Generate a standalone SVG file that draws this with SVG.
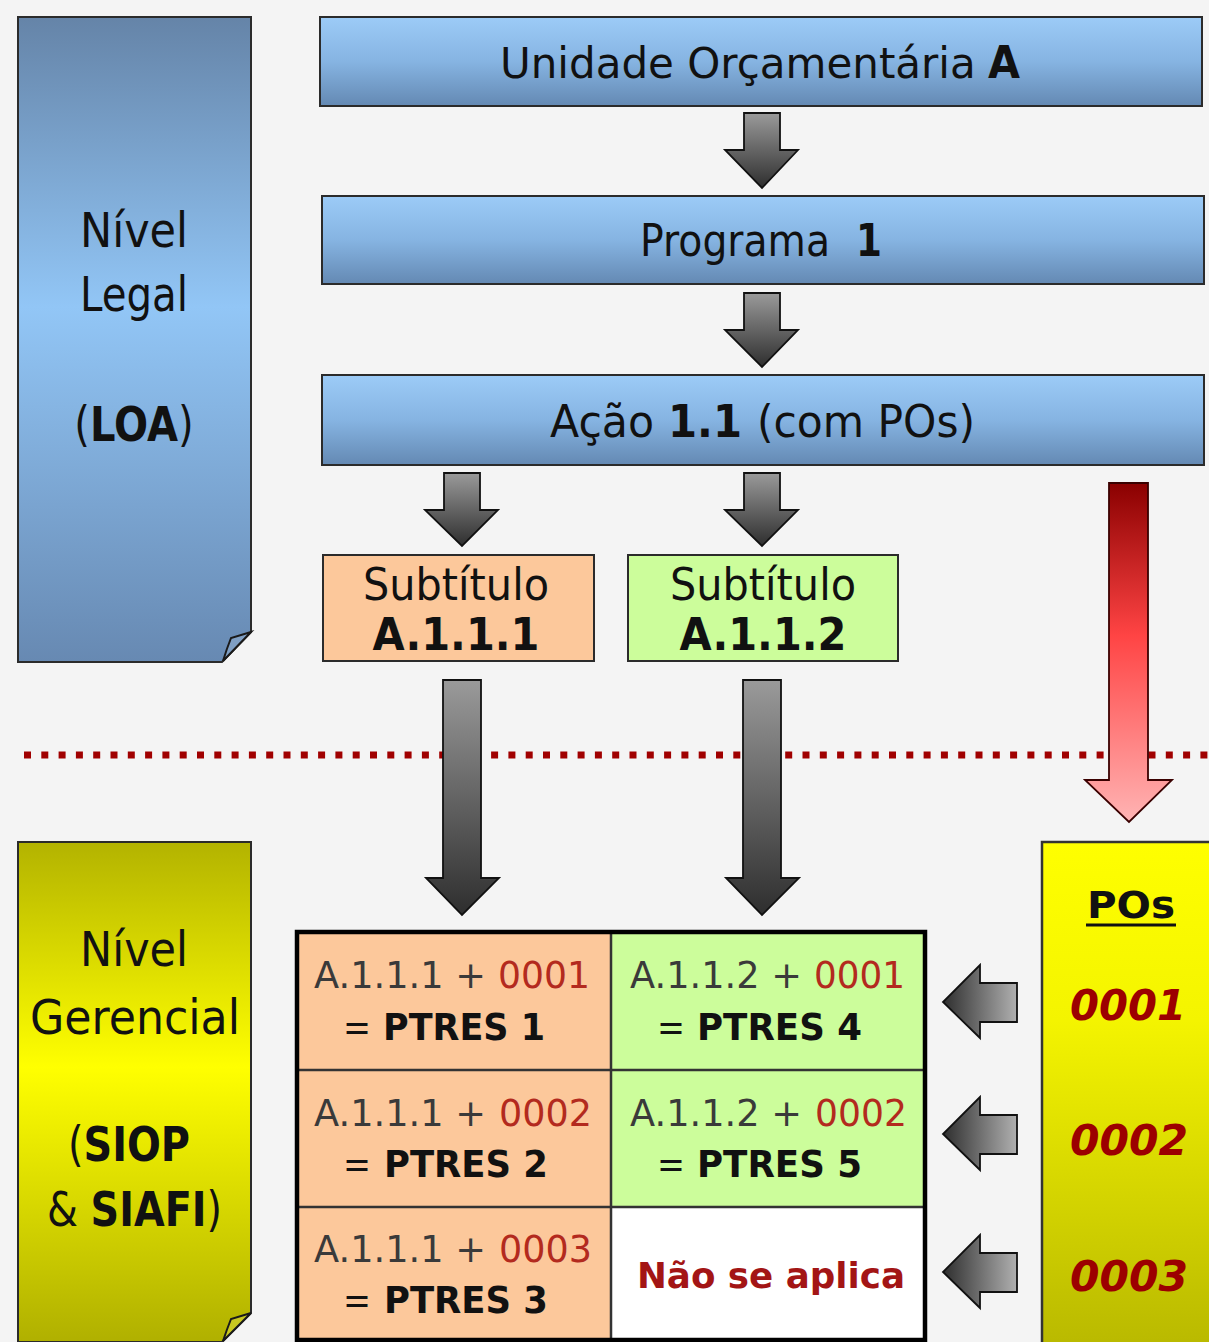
<svg xmlns="http://www.w3.org/2000/svg" width="1209" height="1342" viewBox="0 0 1209 1342">
<defs>
<linearGradient id="gBlueBox" x1="0" y1="0" x2="0" y2="1">
<stop offset="0" stop-color="#9ccbf7"/>
<stop offset="0.5" stop-color="#86b4e2"/>
<stop offset="1" stop-color="#6489b3"/>
</linearGradient>
<linearGradient id="gBluePanel" x1="0" y1="0" x2="0" y2="1">
<stop offset="0" stop-color="#6584a8"/>
<stop offset="0.45" stop-color="#92c6f6"/>
<stop offset="1" stop-color="#6789b2"/>
</linearGradient>
<linearGradient id="gOlivePanel" x1="0" y1="0" x2="0" y2="1">
<stop offset="0" stop-color="#b3b300"/>
<stop offset="0.45" stop-color="#ffff00"/>
<stop offset="1" stop-color="#b0b000"/>
</linearGradient>
<linearGradient id="gPOs" x1="0" y1="0" x2="0" y2="1">
<stop offset="0" stop-color="#ffff00"/>
<stop offset="0.35" stop-color="#f4f400"/>
<stop offset="1" stop-color="#b8b800"/>
</linearGradient>
<linearGradient id="gGrayDown" x1="0" y1="0" x2="0" y2="1">
<stop offset="0" stop-color="#9a9a9a"/>
<stop offset="1" stop-color="#2e2e2e"/>
</linearGradient>
<linearGradient id="gGrayLeft" x1="1" y1="0" x2="0" y2="0">
<stop offset="0" stop-color="#b0b0b0"/>
<stop offset="1" stop-color="#2e2e2e"/>
</linearGradient>
<linearGradient id="gRed" x1="0" y1="0" x2="0" y2="1">
<stop offset="0" stop-color="#8a0000"/>
<stop offset="0.45" stop-color="#ff4444"/>
<stop offset="1" stop-color="#ffb4b4"/>
</linearGradient>
<style>
text{font-family:"DejaVu Sans","Verdana","Liberation Sans",sans-serif;}
.box{stroke:#2b2b2b;stroke-width:2;}
.t{fill:#111;text-anchor:middle;}
.s{fill:#111;text-anchor:start;}
.b{font-weight:bold;}
.h{font-size:44px;}
.p{font-size:48px;}
.cell{stroke:#333;stroke-width:2.5;}
.ct{fill:#3a3a3a;font-size:37px;}
.red{fill:#b32a1e;font-size:37px;}
.pt{fill:#111;font-size:37px;}
.arr{fill:url(#gGrayDown);stroke:#111;stroke-width:1.8;stroke-linejoin:miter;}
.larr{fill:url(#gGrayLeft);stroke:#111;stroke-width:1.8;}
.po{fill:#9c0000;font-weight:bold;font-style:italic;font-size:42px;text-anchor:middle;}
</style>
</defs>
<rect width="1209" height="1342" fill="#f4f4f4"/>

<g id="panel-legal">
<path d="M18,17 H251 V632 L222,662 H18 Z" fill="url(#gBluePanel)" class="box"/>
<path d="M251,632 L231,638 Q227,648 223,661 Z" fill="#7f9fc4" stroke="#1a1a1a" stroke-width="2"/>
<text class="t p" x="134" y="247" textLength="108" lengthAdjust="spacingAndGlyphs">Nível</text>
<text class="t p" x="134" y="311" textLength="108" lengthAdjust="spacingAndGlyphs">Legal</text>
<text class="t p" transform="translate(134,441) scale(0.836,1)">(<tspan class="b">LOA</tspan>)</text>
</g>

<g id="box-unidade">
<rect x="320" y="17" width="882" height="89" fill="url(#gBlueBox)" class="box"/>
<text class="s" x="500" y="78" font-size="42">Unidade Orçamentária</text>
<text class="s h b" x="988" y="78" textLength="32" lengthAdjust="spacingAndGlyphs">A</text>
</g>

<g id="box-programa">
<rect x="322" y="196" width="882" height="88" fill="url(#gBlueBox)" class="box"/>
<text class="s h" x="640" y="256" textLength="190" lengthAdjust="spacingAndGlyphs">Programa</text>
<text class="s h b" x="856" y="256" textLength="26" lengthAdjust="spacingAndGlyphs">1</text>
</g>

<g id="box-acao">
<rect x="322" y="375" width="882" height="90" fill="url(#gBlueBox)" class="box"/>
<text class="s h" x="550" y="437" textLength="104" lengthAdjust="spacingAndGlyphs">Ação</text>
<text class="s h b" x="668" y="437" textLength="74" lengthAdjust="spacingAndGlyphs">1.1</text>
<text class="s h" x="757" y="437" textLength="218" lengthAdjust="spacingAndGlyphs">(com POs)</text>
</g>

<g id="subtitulo-1">
<rect x="323" y="555" width="271" height="106" fill="#fcc89b" class="box"/>
<text class="t" x="456" y="600" font-size="45" textLength="186" lengthAdjust="spacingAndGlyphs">Subtítulo</text>
<text class="t b" x="456" y="650" font-size="45" textLength="167" lengthAdjust="spacingAndGlyphs">A.1.1.1</text>
</g>

<g id="subtitulo-2">
<rect x="628" y="555" width="270" height="106" fill="#ccfd9b" class="box"/>
<text class="t" x="763" y="600" font-size="45" textLength="186" lengthAdjust="spacingAndGlyphs">Subtítulo</text>
<text class="t b" x="763" y="650" font-size="45" textLength="167" lengthAdjust="spacingAndGlyphs">A.1.1.2</text>
</g>

<g id="divider">
<line x1="24" y1="755" x2="1209" y2="755" stroke="#a00000" stroke-width="7" stroke-dasharray="7 10.3"/>
</g>

<g id="panel-gerencial">
<path d="M18,842 H251 V1313 L222,1342 H18 Z" fill="url(#gOlivePanel)" class="box"/>
<path d="M251,1313 L231,1319 Q227,1329 223,1341 Z" fill="#c8c820" stroke="#1a1a1a" stroke-width="2"/>
<text class="t p" x="134" y="966" textLength="108" lengthAdjust="spacingAndGlyphs">Nível</text>
<text class="t p" x="135" y="1034" textLength="210" lengthAdjust="spacingAndGlyphs">Gerencial</text>
<text class="t p" transform="translate(129,1161) scale(0.83,1)">(<tspan class="b">SIOP</tspan></text>
<text class="t p" transform="translate(134.5,1226) scale(0.827,1)">&amp; <tspan class="b">SIAFI</tspan>)</text>
</g>

<g id="panel-pos">
<rect x="1042" y="842" width="180" height="510" fill="url(#gPOs)" stroke="#333" stroke-width="2.5"/>
<text class="t b" x="1131" y="918" font-size="38" textLength="88" lengthAdjust="spacingAndGlyphs">POs</text>
<line x1="1086" y1="925" x2="1176" y2="925" stroke="#111" stroke-width="3"/>
<text class="po" x="1128" y="1020" textLength="116" lengthAdjust="spacingAndGlyphs">0001</text>
<text class="po" x="1129" y="1155" textLength="118" lengthAdjust="spacingAndGlyphs">0002</text>
<text class="po" x="1129" y="1291" textLength="118" lengthAdjust="spacingAndGlyphs">0003</text>
</g>

<g id="table-ptres">
<rect x="297" y="932" width="314" height="138" fill="#fcc89b"/>
<rect x="297" y="1070" width="314" height="137" fill="#fcc89b"/>
<rect x="297" y="1207" width="314" height="140" fill="#fcc89b"/>
<rect x="611" y="932" width="314" height="138" fill="#ccfd9b"/>
<rect x="611" y="1070" width="314" height="137" fill="#ccfd9b"/>
<rect x="611" y="1207" width="314" height="140" fill="#ffffff"/>
<line x1="297" y1="1070" x2="925" y2="1070" class="cell"/>
<line x1="297" y1="1207" x2="925" y2="1207" class="cell"/>
<line x1="611" y1="932" x2="611" y2="1342" class="cell"/>
<rect x="297" y="932" width="628" height="408" fill="none" stroke="#000" stroke-width="4.5"/>

<g id="cell-ptres-1">
<text class="ct" x="314" y="988" textLength="172" lengthAdjust="spacingAndGlyphs">A.1.1.1 +</text>
<text class="red" x="498" y="988" textLength="92" lengthAdjust="spacingAndGlyphs">0001</text>
<text class="pt" x="343" y="1040" textLength="28" lengthAdjust="spacingAndGlyphs">=</text>
<text class="pt b" x="383" y="1040" textLength="162" lengthAdjust="spacingAndGlyphs">PTRES 1</text>
</g>
<g id="cell-ptres-2">
<text class="ct" x="314" y="1126" textLength="172" lengthAdjust="spacingAndGlyphs">A.1.1.1 +</text>
<text class="red" x="499" y="1126" textLength="93" lengthAdjust="spacingAndGlyphs">0002</text>
<text class="pt" x="343" y="1177" textLength="28" lengthAdjust="spacingAndGlyphs">=</text>
<text class="pt b" x="384" y="1177" textLength="164" lengthAdjust="spacingAndGlyphs">PTRES 2</text>
</g>
<g id="cell-ptres-3">
<text class="ct" x="314" y="1262" textLength="172" lengthAdjust="spacingAndGlyphs">A.1.1.1 +</text>
<text class="red" x="499" y="1262" textLength="93" lengthAdjust="spacingAndGlyphs">0003</text>
<text class="pt" x="343" y="1313" textLength="28" lengthAdjust="spacingAndGlyphs">=</text>
<text class="pt b" x="384" y="1313" textLength="164" lengthAdjust="spacingAndGlyphs">PTRES 3</text>
</g>
<g id="cell-ptres-4">
<text class="ct" x="630" y="988" textLength="172" lengthAdjust="spacingAndGlyphs">A.1.1.2 +</text>
<text class="red" x="814" y="988" textLength="91" lengthAdjust="spacingAndGlyphs">0001</text>
<text class="pt" x="657" y="1040" textLength="28" lengthAdjust="spacingAndGlyphs">=</text>
<text class="pt b" x="697" y="1040" textLength="165" lengthAdjust="spacingAndGlyphs">PTRES 4</text>
</g>
<g id="cell-ptres-5">
<text class="ct" x="630" y="1126" textLength="172" lengthAdjust="spacingAndGlyphs">A.1.1.2 +</text>
<text class="red" x="815" y="1126" textLength="92" lengthAdjust="spacingAndGlyphs">0002</text>
<text class="pt" x="657" y="1177" textLength="28" lengthAdjust="spacingAndGlyphs">=</text>
<text class="pt b" x="697" y="1177" textLength="165" lengthAdjust="spacingAndGlyphs">PTRES 5</text>
</g>
<g id="cell-nao-se-aplica">
<text x="771" y="1288" font-size="36" font-weight="bold" fill="#a31515" text-anchor="middle" textLength="268" lengthAdjust="spacingAndGlyphs">Não se aplica</text>
</g>
</g>

<g id="connectors">
<path class="arr" d="M744,113 H780 V150 H798 L762,188 L725,150 H744 Z"/>
<path class="arr" d="M744,293 H780 V330 H798 L762,367 L725,330 H744 Z"/>
<path class="arr" d="M444,473 H480 V510 H498 L462,546 L425,510 H444 Z"/>
<path class="arr" d="M744,473 H780 V510 H798 L762,546 L725,510 H744 Z"/>
<path class="arr" d="M443,680 H481 V878 H499 L462,915 L426,878 H443 Z"/>
<path class="arr" d="M743,680 H781 V878 H799 L762,915 L726,878 H743 Z"/>
<path d="M1109,483 H1148 V780 H1172 L1129,822 L1085,780 H1109 Z" fill="url(#gRed)" stroke="#3a0000" stroke-width="1.8"/>
<path class="larr" d="M1017,983 V1022 H980 V1038 L943,1002 L980,965 V983 Z"/>
<path class="larr" d="M1017,1115 V1154 H980 V1170 L943,1134 L980,1097 V1115 Z"/>
<path class="larr" d="M1017,1253 V1292 H980 V1308 L943,1272 L980,1235 V1253 Z"/>
</g>
</svg>
